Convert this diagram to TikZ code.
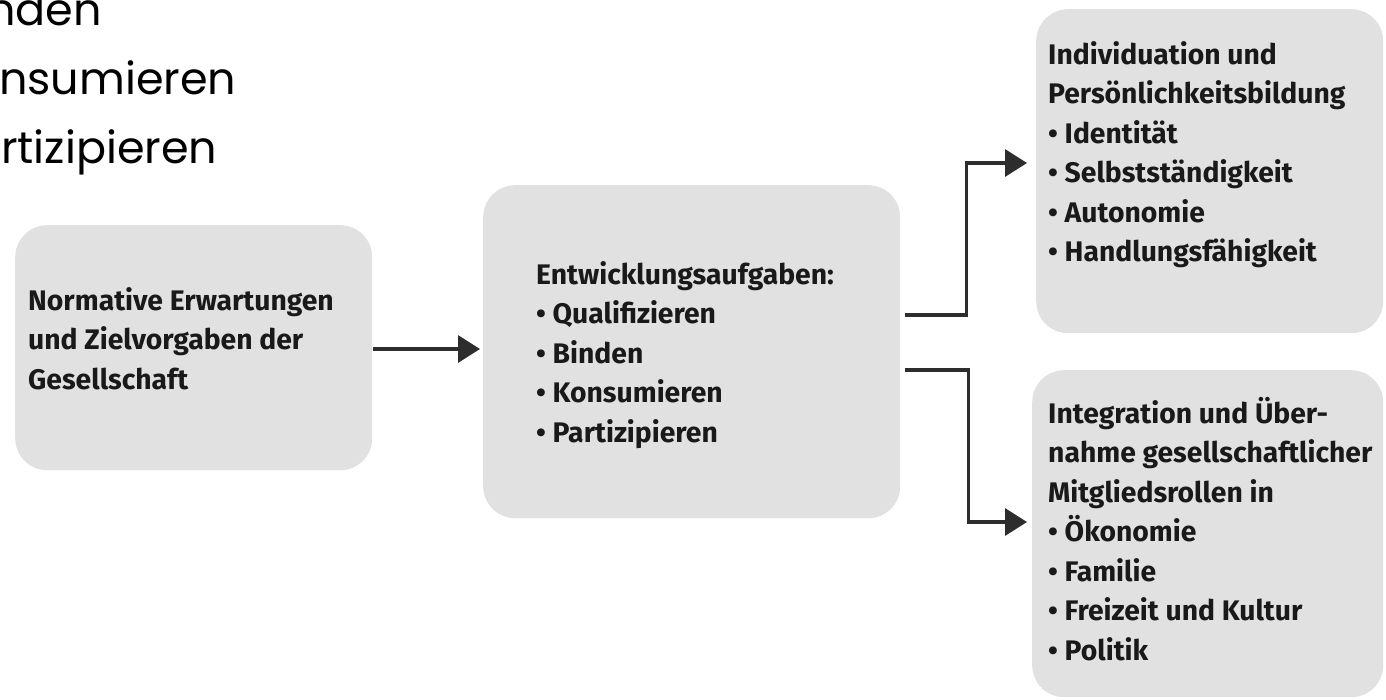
\documentclass[tikz,border=0pt]{standalone}
\usepackage{fontspec}
\setmainfont{Fira Sans}
\newfontfamily\gothic{Poppins}
\usetikzlibrary{arrows.meta,calc}
\definecolor{boxgray}{RGB}{225,225,225}
\definecolor{linegray}{RGB}{45,45,45}
\definecolor{txtcol}{RGB}{25,25,25}
\begin{document}
\begin{tikzpicture}[x=1pt,y=-1pt,
  box/.style={draw=none, fill=boxgray, rounded corners=32pt, anchor=north west, inner sep=0pt},
  txt/.style={anchor=north west, inner sep=0pt, align=left, text=txtcol,
    font=\bfseries\fontsize{28.3}{39.5}\selectfont},
  slide/.style={anchor=base west, inner sep=0pt, text=black,
    font=\gothic\fontsize{44.5}{60}\selectfont},
  conn/.style={draw=linegray, line width=3.3pt, -{Triangle[length=22pt,width=27pt]}}]
\useasboundingbox (0,0) rectangle (1386,699);
\clip (0,0) rectangle (1386,699);
\fill[white] (0,0) rectangle (1386,699);

% cropped slide text
\node[slide] (s1) at (-13,25) {nden};
\node[slide] (s2) at (-1,94) {nsumieren};
\node[slide] (s3) at (1,163) {rtizipieren};

% boxes
\node[box, minimum width=357pt, minimum height=245pt] (b1) at (15,225) {};
\node[box, minimum width=417pt, minimum height=333pt] (b2) at (483,185) {};
\node[box, minimum width=347pt, minimum height=324pt] (b3) at (1036,9) {};
\node[box, minimum width=351pt, minimum height=327pt] (b4) at (1032,370) {};

% texts
\node[txt] (t1) at (28,287) {Normative Erwartungen\\und Zielvorgaben der\\Gesellschaft};
\node[txt] (t2) at (536,261) {Entwicklungsaufgaben:\\• Qualifizieren\\• Binden\\• Konsumieren\\• Partizipieren};
\node[txt] (t3) at (1048,41) {Individuation und\\Persönlichkeitsbildung\\• Identität\\• Selbstständigkeit\\• Autonomie\\• Handlungsfähigkeit};
\node[txt] (t4) at (1048,397) {Integration und Über-\\nahme gesellschaftlicher\\Mitgliedsrollen in\\• Ökonomie\\• Familie\\• Freizeit und Kultur\\• Politik};

% connectors
\coordinate (a1) at ($(b1.east |- 0,349)+(1,0)$);
\coordinate (a2) at ($(b2.west |- 0,349)+(-3,0)$);
\draw[conn] (a1) -- (a2);

\coordinate (u1) at ($(b2.east |- 0,315)+(5,0)$);
\coordinate (u2) at ($(b3.west |- 0,163)+(-9,0)$);
\draw[conn] (u1) -- ++(61,0) |- (u2);

\coordinate (l1) at ($(b2.east |- 0,370)+(5,0)$);
\coordinate (l2) at ($(b4.west |- 0,522)+(-5,0)$);
\draw[conn] (l1) -- ++(63,0) |- (l2);
\end{tikzpicture}
\end{document}
